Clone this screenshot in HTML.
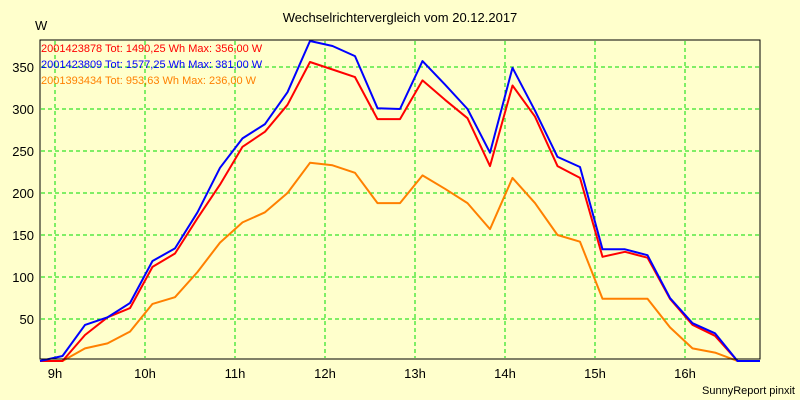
<!DOCTYPE html>
<html><head><meta charset="utf-8">
<style>
body{margin:0;background:#ffffcc;}
svg{display:block;font-family:"Liberation Sans",sans-serif;}
</style></head>
<body>
<svg id="chart" width="800" height="400" viewBox="0 0 800 400">
<rect x="0" y="0" width="800" height="400" fill="#ffffcc"/>
<text x="400" y="22" text-anchor="middle" font-size="13" fill="#000">Wechselrichtervergleich vom 20.12.2017</text>
<text x="35" y="30" font-size="13" fill="#000">W</text>
<g id="grid"></g>
<g id="series"></g>
<rect x="40" y="40" width="720" height="319" fill="none" stroke="#000" stroke-width="1"/>
<g id="axes"></g>
<g id="legend"></g>
<text x="795" y="394" text-anchor="end" font-size="11" fill="#000">SunnyReport pinxit</text>
</svg>
<script>
const yTicks = [50,100,150,200,250,300,350];
const xTickLabels = ["9h","10h","11h","12h","13h","14h","15h","16h"];
const xTickHours = [9,10,11,12,13,14,15,16];
const startHour = 8 + 50/60;
const stepHours = 0.25;
const seriesNames = ["2001423878 Tot: 1490,25 Wh Max: 356,00 W","2001423809 Tot: 1577,25 Wh Max: 381,00 W","2001393434 Tot: 953,63 Wh Max: 236,00 W"];
const seriesColors = ["#ff0000","#0000ff","#ff8000"];
const redValues = [0,0,31,52,63,112,128,170,210,255,273,305,356,347,338,288,288,334,311,289,232,328,291,232,218,124,130,123,74,43,30,0,0];
const blueValues = [0,6,43,52,69,119,134,177,230,265,282,320,381,375,363,301,300,357,329,300,248,349,298,243,231,133,133,126,75,45,33,0,0];
const orangeValues = [0,0,15,21,35,68,76,106,141,165,177,200,236,233,224,188,188,221,205,188,157,218,188,150,142,74,74,74,40,15,10,0,0];

const NS="http://www.w3.org/2000/svg";
function xScale(h){return 55+(h-9)*90;}
function yScale(v){return 361-v*0.84;}
function mk(tag,attrs,parent){const e=document.createElementNS(NS,tag);for(const k in attrs)e.setAttribute(k,attrs[k]);parent.appendChild(e);return e;}

const grid=document.getElementById('grid');
const axes=document.getElementById('axes');
yTicks.forEach(v=>{
  const l=mk('line',{x1:41,x2:759,y1:yScale(v),y2:yScale(v),stroke:'#00dd00','stroke-dasharray':'4,3','stroke-width':1},grid);
  
  
  const t=mk('text',{x:34,y:yScale(v)+5,'text-anchor':'end','font-size':13,fill:'#000'},axes);
  t.textContent=v;
  
  
});
xTickHours.forEach((h,i)=>{
  const l=mk('line',{x1:xScale(h),x2:xScale(h),y1:41,y2:358,stroke:'#00dd00','stroke-dasharray':'4,3','stroke-width':1},grid);
  
  
  const t=mk('text',{x:xScale(h),y:378,'text-anchor':'middle','font-size':13,fill:'#000'},axes);
  t.textContent=xTickLabels[i];
  
  
});

const sg=document.getElementById('series');
const all=[orangeValues,redValues,blueValues];
const cols=[seriesColors[2],seriesColors[0],seriesColors[1]];
const nms=['series-2001393434','series-2001423878','series-2001423809'];
all.forEach((vals,si)=>{
  const pts=vals.map((v,i)=>xScale(startHour+i*stepHours).toFixed(1)+','+yScale(v).toFixed(1)).join(' ');
  const p=mk('polyline',{points:pts,fill:'none',stroke:cols[si],'stroke-width':2,'stroke-linejoin':'round'},sg);
  
  
});

const lg=document.getElementById('legend');
seriesNames.forEach((n,i)=>{
  const t=mk('text',{x:41,y:52+i*16,'font-size':11,fill:seriesColors[i]},lg);
  t.textContent=n;
  
  
});
</script>
</body></html>
